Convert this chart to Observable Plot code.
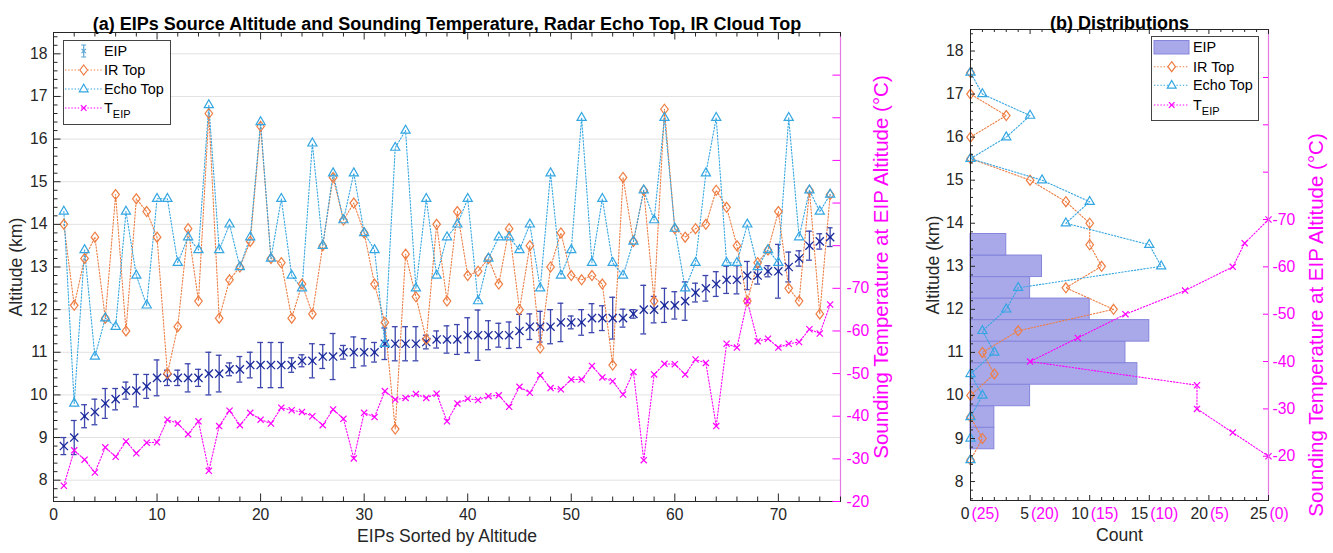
<!DOCTYPE html>
<html><head><meta charset="utf-8">
<script src="https://cdn.jsdelivr.net/npm/d3@7"></script>
<script src="https://cdn.jsdelivr.net/npm/@observablehq/plot@0.6"></script>
<style>
body{margin:0;background:#fff;}
#wrap{position:relative;width:1333px;height:553px;overflow:hidden;background:#fff;}
#wrap svg{position:absolute;top:0;}
</style></head><body><div id="wrap"></div>
<script>
// ---------------- DATA ----------------
// Panel (a): EIPs sorted by altitude (km), altitude uncertainty (km), IR cloud top (km), radar echo top (km), sounding temperature (°C)
const eipAlt = [8.8,9.0,9.5,9.6,9.8,9.9,10.1,10.1,10.2,10.4, 10.4,10.4,10.4,10.4,10.5,10.5,10.6,10.6,10.7,10.7, 10.7,10.7,10.7,10.8,10.8,10.9,10.9,11.0,11.0,11.0, 11.0,11.2,11.2,11.2,11.2,11.24,11.3,11.3,11.3,11.4, 11.4,11.4,11.4,11.4,11.5,11.6,11.6,11.6,11.7,11.7, 11.7,11.8,11.8,11.8,11.8,11.9,12.0,12.0,12.1,12.1, 12.2,12.4,12.5,12.6,12.7,12.7,12.8,12.8,12.9,12.9, 13.0,13.2,13.5,13.6,13.7];
const eipErr = [0.2,0.4,0.27,0.3,0.35,0.25,0.2,0.38,0.28,0.42, 0.18,0.18,0.33,0.2,0.5,0.43,0.15,0.3,0.3,0.53, 0.53,0.53,0.17,0.14,0.4,0.28,0.54,0.16,0.36,0.32, 0.23,0.37,0.4,0.4,0.4,0.16,0.2,0.32,0.35,0.41, 0.59,0.34,0.28,0.31,0.39,0.3,0.36,0.4,0.45,0.15, 0.3,0.34,0.29,0.49,0.21,0.1,0.57,0.31,0.4,0.32, 0.45,0.22,0.3,0.29,0.32,0.33,0.33,0.2,0.13,0.63, 0.35,0.18,0.34,0.18,0.22];
const irTop = [14.0,12.1,13.2,13.7,11.8,14.7,11.5,14.6,14.3,13.7, 10.5,11.6,13.9,12.2,16.6,11.8,12.7,13.0,13.6,16.3, 13.2,13.1,11.8,12.6,11.9,13.5,15.1,14.1,14.5,13.8, 12.6,11.7,9.2,13.3,12.3,11.3,14.0,12.2,14.3,12.8, 12.9,13.2,12.6,13.9,12.0,13.5,11.1,13.0,13.8,12.8, 12.7,12.8,12.6,10.7,15.1,13.6,14.8,12.2,16.7,13.9, 13.7,13.9,14.0,14.8,14.4,13.5,12.2,13.1,13.4,14.3, 12.5,12.2,14.8,11.9,14.7];
const echoTop = [14.3,9.8,13.4,10.9,11.8,11.6,14.3,12.8,12.1,14.6, 14.6,13.1,13.7,13.4,16.8,13.4,14.0,13.0,13.7,16.4, 13.2,14.6,12.8,12.5,15.9,13.5,15.2,14.1,15.2,13.8, 13.4,11.2,15.8,16.2,12.5,14.6,12.8,13.7,14.0,14.6, 12.2,13.2,13.7,13.7,13.4,14.0,12.5,15.2,12.8,13.4, 16.5,13.1,14.6,13.1,12.8,13.6,14.8,14.1,16.5,13.9, 12.5,13.1,15.2,16.5,13.1,13.1,14.0,13.0,13.4,13.1, 16.5,13.7,14.8,14.3,14.7];
const tempEIP = [-23.7,-32.0,-29.8,-26.8,-32.7,-30.5,-34.1,-31.3,-33.8,-33.9, -39.2,-38.3,-35.8,-38.8,-27.2,-37.7,-41.3,-37.9,-40.8,-39.2, -38.3,-42.0,-41.4,-41.0,-40.0,-37.9,-41.6,-39.4,-30.1,-40.8, -39.8,-45.9,-43.9,-44.3,-45.2,-44.3,-45.3,-38.8,-43.0,-44.1, -43.8,-44.7,-44.9,-42.2,-46.9,-45.5,-49.6,-46.6,-46.3,-48.6, -48.6,-51.8,-49.1,-48.2,-45.1,-50.4,-29.7,-49.8,-52.3,-52.2, -49.8,-53.3,-52.5,-37.7,-57.0,-56.1,-67.0,-57.6,-58.2,-56.1, -57.0,-57.4,-60.4,-59.4,-66.2];

// Panel (b): distributions
const histCenters = [9.0,9.5,10.0,10.5,11.0,11.5,12.0,12.5,13.0,13.5];
const histCounts  = [2,2,5,14,13,15,10,5,6,3];
const altBins   = [8.5,9.0,9.5,10.0,10.5,11.0,11.5,12.0,12.5,13.0,13.5,14.0,14.5,15.0,15.5,16.0,16.5,17.0,17.5];
const irCounts   = [0,1,0,0,2,1,4,12,8,11,10,10,8,5,0,0,3,0,0];
const echoCounts = [0,0,0,1,0,2,1,3,4,16,15,8,10,6,0,3,5,1,0];
const tempBins   = [-70,-65,-60,-55,-50,-45,-40,-35,-30,-25,-20];
const tempCounts = [0,2,3,7,12,16,20,6,6,3,0];

// Tick labels
const xTicksA = [0,10,20,30,40,50,60,70];
const yTicks = [8,9,10,11,12,13,14,15,16,17,18];
const tempTickLabels = [-70,-60,-50,-40,-30,-20];
const countTicks = [0,5,10,15,20,25];

// ---------------- STYLE ----------------
const FONT = '"Liberation Sans", Arial, Helvetica, sans-serif';
const INK = "#262626";
const MAG = "#ff00ff";
const MAGAXIS = "#e37ae3";
const ORANGE = "#ee7d42";
const CYAN = "#34a6e2";
const NAVY = "#1c2b9c";
const BAR = "#3c46ad";
const HIST = "#a9a9ea";
const HISTEDGE = "#8585dc";
const DOT = "1.4 1.8";
const TICK = 15.7, LAB = 17.6, RLAB = 20.5;

const DIAMOND = {draw(ctx, size) {
  const s = Math.sqrt(size / Math.PI);
  ctx.moveTo(0, -s * 1.22); ctx.lineTo(s * 0.92, 0); ctx.lineTo(0, s * 1.22); ctx.lineTo(-s * 0.92, 0); ctx.closePath();
}};

const rowsA = eipAlt.map((a, k) => ({i: k + 1, alt: a, err: eipErr[k], ir: irTop[k], echo: echoTop[k], t: tempEIP[k]}));
const histRows = histCenters.map((c, k) => ({c, n: histCounts[k]}));
const irRows = altBins.map((c, k) => ({c, n: irCounts[k]}));
const echoRows = altBins.map((c, k) => ({c, n: echoCounts[k]}));
const tRows = tempBins.map((t, k) => ({t, n: tempCounts[k]}));

// right-axis (temperature) placement onto the altitude scale
const aTempToAlt = t => 5.5 - t / 10;
const bTempToAlt = t => 8.588 - (t + 20) * 0.10997;

const minorOf = (lo, hi, step, major) => d3.range(Math.round(lo / step), Math.round(hi / step) + 1).map(k => +(k * step).toFixed(4)).filter(v => Math.abs(v / major - Math.round(v / major)) > 1e-6);

// ---------------- PANEL (a) ----------------
const A = {w: 900, h: 553, mt: 32, mb: 52, ml: 53, mr: 60};
const ihA = A.h - A.mt - A.mb, iwA = A.w - A.ml - A.mr;
const xMinorA = minorOf(0, 76, 2, 10);
const yMinor = minorOf(7.6, 18.4, 0.2, 1);
const tTicksA = d3.range(-20, -121, -10);

const svgA = Plot.plot({
  width: A.w, height: A.h, marginTop: A.mt, marginBottom: A.mb, marginLeft: A.ml, marginRight: A.mr,
  style: {fontFamily: FONT, fontSize: TICK + "px", color: INK, background: "transparent", overflow: "visible"},
  x: {domain: [0, 76], axis: null},
  y: {domain: [7.5, 18.5], axis: null},
  marks: [
    Plot.gridY(yTicks, {stroke: "#e2e2e2", strokeOpacity: 1}),
    // EIP error bars
    Plot.ruleX(rowsA, {x: "i", y1: d => d.alt - d.err, y2: d => d.alt + d.err, stroke: BAR, strokeWidth: 1.3}),
    Plot.ruleY(rowsA, {y: d => d.alt - d.err, x1: d => d.i - 0.28, x2: d => d.i + 0.28, stroke: BAR, strokeWidth: 1.3}),
    Plot.ruleY(rowsA, {y: d => d.alt + d.err, x1: d => d.i - 0.28, x2: d => d.i + 0.28, stroke: BAR, strokeWidth: 1.3}),
    // IR top
    Plot.line(rowsA, {x: "i", y: "ir", stroke: ORANGE, strokeWidth: 1.1, strokeDasharray: DOT}),
    // Echo top
    Plot.line(rowsA, {x: "i", y: "echo", stroke: CYAN, strokeWidth: 1.1, strokeDasharray: DOT}),
    // Temperature
    Plot.line(rowsA, {x: "i", y: d => aTempToAlt(d.t), stroke: MAG, strokeWidth: 1.1, strokeDasharray: DOT}),
    Plot.dot(rowsA, {x: "i", y: "alt", symbol: "times", r: 3.8, stroke: NAVY, fill: "none", strokeWidth: 1.3}),
    Plot.dot(rowsA, {x: "i", y: "alt", r: 1.3, fill: NAVY, stroke: "none"}),
    Plot.dot(rowsA, {x: "i", y: "ir", symbol: DIAMOND, r: 4.1, stroke: ORANGE, fill: "none", strokeWidth: 1.2}),
    Plot.dot(rowsA, {x: "i", y: "echo", symbol: "triangle", r: 3.4, stroke: CYAN, fill: "none", strokeWidth: 1.2}),
    Plot.dot(rowsA, {x: "i", y: d => aTempToAlt(d.t), symbol: "times", r: 2.9, stroke: MAG, fill: "none", strokeWidth: 1.2}),
    // box & ticks
    Plot.frame({stroke: INK, strokeWidth: 1}),
    Plot.ruleX([76], {stroke: MAGAXIS, strokeWidth: 1.2}),
    Plot.tickX(xTicksA, {x: d => d, insetTop: ihA - 7.5, stroke: INK}),
    Plot.tickX(xMinorA, {x: d => d, insetTop: ihA - 4.5, stroke: INK}),
    Plot.tickX(xTicksA, {x: d => d, insetBottom: ihA - 7.5, stroke: INK}),
    Plot.tickX(xMinorA, {x: d => d, insetBottom: ihA - 4.5, stroke: INK}),
    Plot.tickY(yTicks, {y: d => d, insetRight: iwA - 7.5, stroke: INK}),
    Plot.tickY(yMinor, {y: d => d, insetRight: iwA - 4.5, stroke: INK}),
    Plot.tickY(tTicksA, {y: aTempToAlt, insetLeft: iwA - 7.5, stroke: MAG}),
    // tick labels
    Plot.text(xTicksA, {x: d => d, frameAnchor: "bottom", dy: 18, textAnchor: "middle", text: d => String(d), fill: INK}),
    Plot.text(yTicks, {y: d => d, frameAnchor: "left", dx: -6, textAnchor: "end", text: d => String(d), fill: INK}),
    Plot.text(tempTickLabels, {y: aTempToAlt, frameAnchor: "right", dx: 6, textAnchor: "start", text: d => String(d), fill: MAG}),
    // axis labels & title
    Plot.text(["EIPs Sorted by Altitude"], {frameAnchor: "bottom", dy: 40, textAnchor: "middle", fontSize: LAB, fill: INK}),
    Plot.text(["Altitude (km)"], {frameAnchor: "left", dx: -37, rotate: -90, textAnchor: "middle", fontSize: LAB, fill: INK}),
    Plot.text(["Sounding Temperature at EIP Altitude (°C)"], {frameAnchor: "right", dx: 41, rotate: -90, textAnchor: "middle", fontSize: RLAB, fill: MAG}),
    Plot.text(["(a) EIPs Source Altitude and Sounding Temperature, Radar Echo Top, IR Cloud Top"], {frameAnchor: "top", dy: -15, textAnchor: "middle", fontSize: 18, fontWeight: "bold", fill: "#000"})
  ]
});

// ---------------- PANEL (b) ----------------
const B = {w: 433, h: 553, mt: 29, mb: 53, ml: 70, mr: 65};
const ihB = B.h - B.mt - B.mb, iwB = B.w - B.ml - B.mr;
const xMinorB = minorOf(0, 25, 1, 5);
const tTicksB = d3.range(-20, -101, -10);

const svgB = Plot.plot({
  width: B.w, height: B.h, marginTop: B.mt, marginBottom: B.mb, marginLeft: B.ml, marginRight: B.mr,
  style: {fontFamily: FONT, fontSize: TICK + "px", color: INK, background: "transparent", overflow: "visible"},
  x: {domain: [0, 25], axis: null},
  y: {domain: [7.56, 18.5], axis: null},
  marks: [
    Plot.rectX(histRows, {y1: d => d.c - 0.25, y2: d => d.c + 0.25, x1: 0, x2: "n", fill: HIST, stroke: HISTEDGE, strokeWidth: 1}),
    Plot.line(irRows, {x: "n", y: "c", stroke: ORANGE, strokeWidth: 1.1, strokeDasharray: DOT}),
    Plot.dot(irRows, {x: "n", y: "c", symbol: DIAMOND, r: 4.1, stroke: ORANGE, fill: "none", strokeWidth: 1.2}),
    Plot.line(echoRows, {x: "n", y: "c", stroke: CYAN, strokeWidth: 1.1, strokeDasharray: DOT}),
    Plot.dot(echoRows, {x: "n", y: "c", symbol: "triangle", r: 3.4, stroke: CYAN, fill: "none", strokeWidth: 1.2}),
    Plot.line(tRows, {x: d => 25 - d.n, y: d => bTempToAlt(d.t), stroke: MAG, strokeWidth: 1.1, strokeDasharray: DOT}),
    Plot.dot(tRows, {x: d => 25 - d.n, y: d => bTempToAlt(d.t), symbol: "times", r: 2.9, stroke: MAG, fill: "none", strokeWidth: 1.2}),
    Plot.frame({stroke: INK, strokeWidth: 1}),
    Plot.ruleX([25], {stroke: MAGAXIS, strokeWidth: 1.2}),
    Plot.tickX(countTicks, {x: d => d, insetTop: ihB - 5, stroke: INK}),
    Plot.tickX(xMinorB, {x: d => d, insetTop: ihB - 3, stroke: INK}),
    Plot.tickX(countTicks, {x: d => d, insetBottom: ihB - 5, stroke: INK}),
    Plot.tickX(xMinorB, {x: d => d, insetBottom: ihB - 3, stroke: INK}),
    Plot.tickY(yTicks, {y: d => d, insetRight: iwB - 5, stroke: INK}),
    Plot.tickY(yMinor, {y: d => d, insetRight: iwB - 3, stroke: INK}),
    Plot.tickY(tTicksB, {y: bTempToAlt, insetLeft: iwB - 5, stroke: MAG}),
    Plot.text(countTicks, {x: d => d, frameAnchor: "bottom", dy: 18, dx: -1, textAnchor: "end", text: d => String(d), fill: INK}),
    Plot.text(countTicks, {x: d => d, frameAnchor: "bottom", dy: 18, dx: 1, textAnchor: "start", text: d => `(${25 - d})`, fill: MAG}),
    Plot.text(yTicks, {y: d => d, frameAnchor: "left", dx: -7, textAnchor: "end", text: d => String(d), fill: INK}),
    Plot.text(tempTickLabels, {y: bTempToAlt, frameAnchor: "right", dx: 4, textAnchor: "start", text: d => String(d), fill: MAG}),
    Plot.text(["Count"], {frameAnchor: "bottom", dy: 40, textAnchor: "middle", fontSize: LAB, fill: INK}),
    Plot.text(["Altitude (km)"], {frameAnchor: "left", dx: -37, rotate: -90, textAnchor: "middle", fontSize: LAB, fill: INK}),
    Plot.text(["Sounding Temperature at EIP Altitude (°C)"], {frameAnchor: "right", dx: 48, dy: 60, rotate: -90, textAnchor: "middle", fontSize: RLAB, fill: MAG}),
    Plot.text(["(b) Distributions"], {frameAnchor: "top", dy: -13, textAnchor: "middle", fontSize: 18, fontWeight: "bold", fill: "#000"})
  ]
});

const wrap = document.getElementById("wrap");
svgA.style.left = "0px"; wrap.appendChild(svgA);
svgB.style.left = "900px"; wrap.appendChild(svgB);

// ---------------- LEGENDS ----------------
const leg = d3.select(wrap).append("svg").attr("width", 1333).attr("height", 553)
  .style("position", "absolute").style("left", "0px").style("top", "0px")
  .style("font-family", FONT).style("font-size", "14.4px");

function dotted(g, x1, x2, y, color) {
  g.append("line").attr("x1", x1).attr("x2", x2).attr("y1", y).attr("y2", y)
    .attr("stroke", color).attr("stroke-width", 1.1).attr("stroke-dasharray", DOT);
}
function diamond(g, x, y, color) {
  g.append("path").attr("d", `M${x},${y - 5}L${x + 3.8},${y}L${x},${y + 5}L${x - 3.8},${y}Z`).attr("fill", "#fff").attr("stroke", color).attr("stroke-width", 1.2);
}
function tri(g, x, y, color) {
  g.append("path").attr("d", `M${x},${y - 4.8}L${x + 4.4},${y + 2.8}L${x - 4.4},${y + 2.8}Z`).attr("fill", "#fff").attr("stroke", color).attr("stroke-width", 1.2);
}
function cross(g, x, y, s, color) {
  g.append("path").attr("d", `M${x - s},${y - s}L${x + s},${y + s}M${x - s},${y + s}L${x + s},${y - s}`).attr("stroke", color).attr("stroke-width", 1.2).attr("fill", "none");
}
function label(g, x, y, txt) {
  g.append("text").attr("x", x).attr("y", y).attr("dy", "0.35em").attr("fill", "#000").text(txt);
}
function tLabel(g, x, y) {
  const t = g.append("text").attr("x", x).attr("y", y).attr("dy", "0.35em").attr("fill", "#000");
  t.append("tspan").text("T");
  t.append("tspan").attr("dy", "5").attr("font-size", "11px").text("EIP");
}

// legend (a)
{
  const g = leg.append("g");
  g.append("rect").attr("x", 63.5).attr("y", 40.5).attr("width", 107).attr("height", 84).attr("fill", "#fff").attr("stroke", "#444");
  const cx = 83.7;
  g.append("path").attr("d", `M${cx},45V57M${cx - 2.5},45H${cx + 2.5}M${cx - 2.5},57H${cx + 2.5}`).attr("stroke", "#5aa6d6").attr("stroke-width", 1.2);
  cross(g, cx, 51, 2.2, "#5aa6d6");
  label(g, 104, 51, "EIP");
  dotted(g, 65, 102, 70, ORANGE); diamond(g, cx, 70, ORANGE); label(g, 104, 70, "IR Top");
  dotted(g, 65, 102, 89, CYAN); tri(g, cx, 89, CYAN); label(g, 104, 89, "Echo Top");
  dotted(g, 65, 102, 108, MAG); cross(g, cx, 108, 2.8, MAG); tLabel(g, 104, 108);
}
// legend (b)
{
  const g = leg.append("g");
  g.append("rect").attr("x", 1151.5).attr("y", 36.5).attr("width", 107).attr("height", 84).attr("fill", "#fff").attr("stroke", "#444");
  const cx = 1171.7;
  g.append("rect").attr("x", 1154).attr("y", 40.5).attr("width", 35).attr("height", 13.5).attr("fill", HIST).attr("stroke", HISTEDGE);
  label(g, 1193, 47, "EIP");
  dotted(g, 1154, 1189, 66.7, ORANGE); diamond(g, cx, 66.7, ORANGE); label(g, 1193, 66.7, "IR Top");
  dotted(g, 1154, 1189, 85.3, CYAN); tri(g, cx, 85.3, CYAN); label(g, 1193, 85.3, "Echo Top");
  dotted(g, 1154, 1189, 105, MAG); cross(g, cx, 105, 2.8, MAG); tLabel(g, 1193, 105);
}
</script></body></html>
